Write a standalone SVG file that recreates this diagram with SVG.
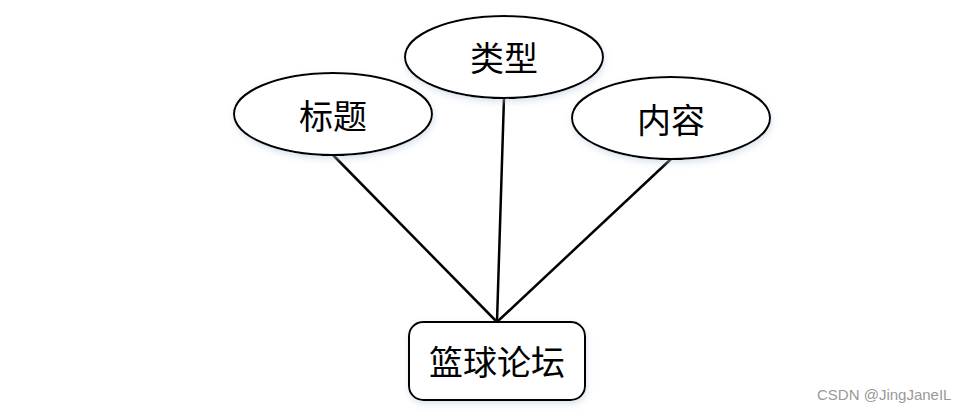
<svg xmlns="http://www.w3.org/2000/svg" width="965" height="413" viewBox="0 0 965 413">
<style>
.shape{fill:#fff;stroke:#000;stroke-width:2}
.lbl{font-family:"Noto Sans CJK SC","Noto Sans CJK JP",sans-serif;font-size:34px;fill:#000;text-anchor:middle;dominant-baseline:central}
.edge{stroke:#000;stroke-width:2.5;fill:none}
.wm{font-family:"Liberation Sans",Arial,sans-serif;font-size:15px;fill:#999}
</style>
<defs>
<filter id="sh" x="-10%" y="-10%" width="120%" height="130%">
<feDropShadow dx="1" dy="3" stdDeviation="3" flood-color="#b8c8e0" flood-opacity="0.5"/>
</filter>
</defs>
<rect width="965" height="413" fill="#fff"/>
<g id="connectors">
<line class="edge" x1="333" y1="155" x2="497" y2="322"/>
<line class="edge" x1="504" y1="98" x2="497" y2="322"/>
<line class="edge" x1="671" y1="159" x2="497" y2="322"/>
</g>
<g id="node-biaoti">
<ellipse class="shape" filter="url(#sh)" cx="333" cy="114" rx="99" ry="41"/>
<text class="lbl" x="333" y="114">标题</text>
</g>
<g id="node-leixing">
<ellipse class="shape" filter="url(#sh)" cx="504" cy="57" rx="99" ry="41"/>
<text class="lbl" x="504" y="56">类型</text>
</g>
<g id="node-neirong">
<ellipse class="shape" filter="url(#sh)" cx="671" cy="118" rx="99" ry="41"/>
<text class="lbl" x="671" y="118">内容</text>
</g>
<g id="node-forum">
<rect class="shape" filter="url(#sh)" x="409" y="322" width="176" height="78" rx="14" ry="14"/>
<text class="lbl" x="497" y="360">篮球论坛</text>
</g>
<text class="wm" x="817" y="400">CSDN @JingJaneIL</text>
</svg>
